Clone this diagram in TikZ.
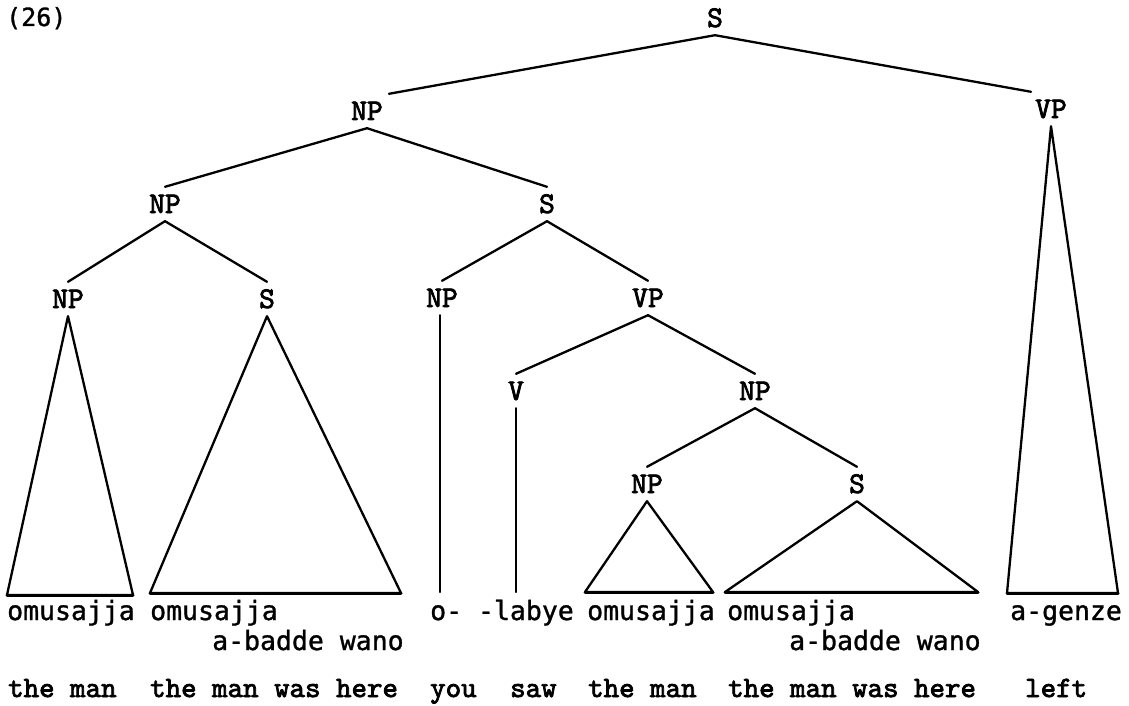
\documentclass[tikz,border=0pt]{standalone}
\usepackage{fontspec}
\newfontfamily\lug{DejaVu Sans Mono}[FakeBold=1.2]
\newfontfamily\tw{lmmono10-regular.otf}[FakeBold=2.6]
\begin{document}
\begin{tikzpicture}[x=1pt,y=-1pt,
  cat/.style={font=\tw\fontsize{30}{31}\selectfont, inner xsep=0pt, inner ysep=8pt,
              text height=18pt, text depth=0pt, anchor=base},
  word/.style={font=\lug\fontsize{26.5}{28}\selectfont, inner sep=0pt, anchor=base west},
  gloss/.style={font=\tw\fontsize{29.5}{30}\selectfont, inner sep=0pt, anchor=base west},
  edge/.style={line width=2.3pt, line join=round, line cap=round},
  basel/.style={line width=3pt, line cap=round}]
\useasboundingbox (0,0) rectangle (1129,706);

\node[inner sep=0pt, anchor=base west, font=\lug\fontsize{25}{26}\selectfont] (num) at (6,26) {(26)};

% category labels
\node[cat] (s0)  at (715,27)  {S};
\node[cat] (np1) at (367,120) {NP};
\node[cat] (vp1) at (1051,118) {VP};
\node[cat] (np2) at (165,213) {NP};
\node[cat] (s2)  at (547,213) {S};
\node[cat] (np3) at (68,308)  {NP};
\node[cat] (s3)  at (267,308) {S};
\node[cat] (np4) at (442,307) {NP};
\node[cat] (vp2) at (648,307) {VP};
\node[cat] (v)   at (516,400) {V};
\node[cat] (np5) at (755,400) {NP};
\node[cat] (np6) at (647,493) {NP};
\node[cat] (s4)  at (857,493) {S};

% base corners
\coordinate (a1) at (7,595);   \coordinate (a2) at (133,595);
\coordinate (b1) at (150,593); \coordinate (b2) at (401,593);
\coordinate (c1) at (585,592); \coordinate (c2) at (713,592);
\coordinate (d1) at (725,592); \coordinate (d2) at (978,592);
\coordinate (e1) at (1007,593);\coordinate (e2) at (1118,593);
\coordinate (f)  at (440,592);
\coordinate (g)  at (516,592);

% branches
\draw[edge] (s0.south) -- ([xshift=6pt]np1.north east);
\draw[edge] (s0.south) -- ([xshift=-4pt]vp1.north west);
\draw[edge] (np1.south) -- (np2.north);
\draw[edge] (np1.south) -- (s2.north);
\draw[edge] (np2.south) -- (np3.north);
\draw[edge] (np2.south) -- (s3.north);
\draw[edge] (s2.south) -- (np4.north);
\draw[edge] (s2.south) -- (vp2.north);
\draw[edge] (vp2.south) -- (v.north);
\draw[edge] (vp2.south) -- (np5.north);
\draw[edge] (np5.south) -- (np6.north);
\draw[edge] (np5.south) -- (s4.north);

% triangles and lines
\draw[edge] (np3.south) -- (a1) -- (a2) -- cycle;
\draw[edge] (s3.south) -- (b1) -- (b2) -- cycle;
\draw[edge] (np6.south) -- (c1) -- (c2) -- cycle;
\draw[edge] (s4.south) -- (d1) -- (d2) -- cycle;
\draw[edge] (vp1.south) -- (e1) -- (e2) -- cycle;
\draw[basel] (a1) -- (a2) (b1) -- (b2) (c1) -- (c2) (d1) -- (d2) (e1) -- (e2);
\draw[edge] (np4.south -| f) -- (f);
\draw[edge] (v.south) -- (g);

% Luganda words
\node[word] (w1) at (7,620)   {omusajja};
\node[word] (w2) at (150,620) {omusajja};
\node[word] (w3) at (212,650) {a-badde wano};
\node[word] (w4) at (430,620) {o- -labye};
\node[word] (w5) at (587,620) {omusajja};
\node[word] (w6) at (727,620) {omusajja};
\node[word] (w7) at (789,650) {a-badde wano};
\node[word] (w8) at (1010,620) {a-genze};

% glosses
\node[gloss] (t1) at (8,697)    {the man};
\node[gloss] (t2) at (150,697)  {the man was here};
\node[gloss] (t3) at (430,697)  {you};
\node[gloss] (t4) at (510,697)  {saw};
\node[gloss] (t5) at (588,697)  {the man};
\node[gloss] (t6) at (728,697)  {the man was here};
\node[gloss] (t7) at (1025,697) {left};
\end{tikzpicture}
\end{document}
